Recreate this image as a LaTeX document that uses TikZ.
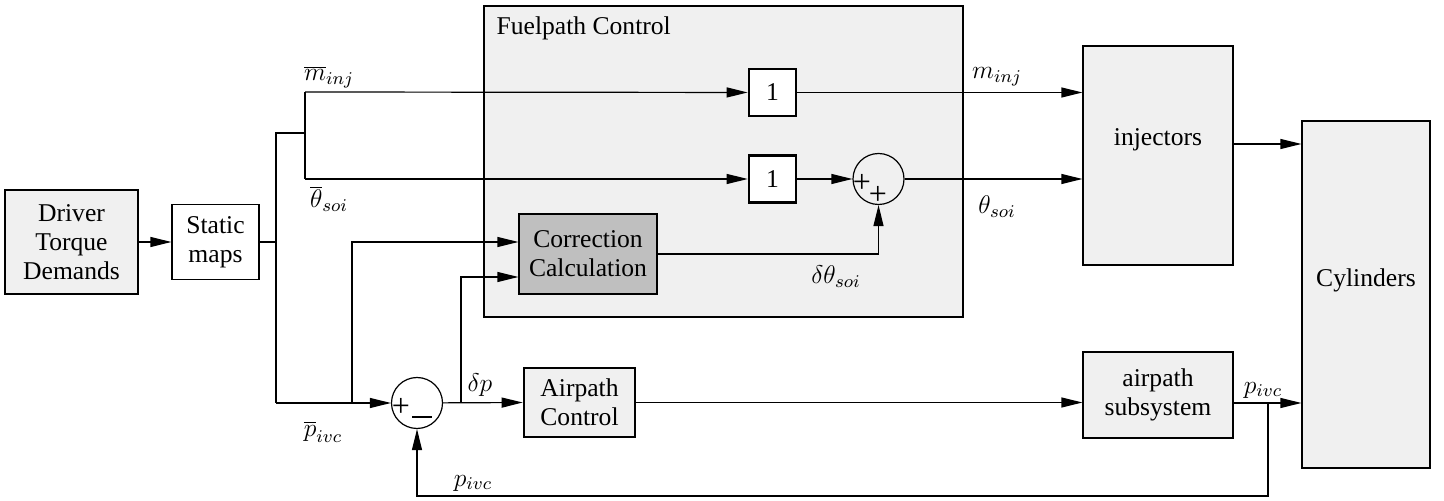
\documentclass[tikz,border=0pt]{standalone}
\usepackage{fix-cm}
\usepackage{fontspec}
\setmainfont{Liberation Serif}
\usetikzlibrary{arrows.meta}

\begin{document}
\begin{tikzpicture}[x=0.5pt,y=-0.5pt,line width=0.6pt,
  font=\fontsize{12.8}{14.5}\selectfont,
  >={Triangle[length=10.5pt,width=5pt]},
  blk/.style={draw,fill=black!6,align=center,inner sep=0pt},
  gain/.style={draw,fill=white,line width=1.3pt,minimum size=23.5pt,inner sep=0pt},
  sumj/.style={draw,circle,minimum size=25.5pt,inner sep=0pt},
  sgn/.style={inner sep=0pt,font=\fontsize{16}{16}\selectfont}]
\useasboundingbox (0,0) rectangle (1444,501);
% fuelpath frame goes first, the rest sits on top of it
\node[blk,line width=1.3pt,minimum width=239.5pt,minimum height=155.5pt] (fuel) at (723.5,161.5) {};
\node[anchor=base west,inner sep=0pt] (fueltitle) at (496,35) {Fuelpath Control};
%
\node[blk,minimum width=66.5pt,minimum height=52pt] (drv) at (71.5,242) {Driver\\Torque\\Demands};
\node[blk,fill=white,minimum width=43.5pt,minimum height=37.5pt] (smap) at (215.5,242) {Static\\maps};
\node[gain] (one1) at (772.5,92.5) {1};
\node[gain] (one2) at (772.5,179) {1};
\node[sumj] (add) at (878.5,179) {};
\node[blk,fill=black!25,minimum width=69pt,minimum height=40pt] (corr) at (588,254) {Correction\\Calculation};
\node[blk,minimum width=75pt,minimum height=109.5pt] (inj) at (1158,155.5) {};
\node (injtxt) at (1158,140) {injectors};
\node[blk,minimum width=64pt,minimum height=173.5pt] (cyl) at (1366,294.5) {};
\node (cyltxt) at (1366,280) {Cylinders};
\node[blk,minimum width=75pt,minimum height=43pt] (sub) at (1158,395) {airpath\\subsystem};
\node[blk,line width=1.3pt,minimum width=55.5pt,minimum height=34.5pt] (apc) at (579.5,402.5) {Airpath\\Control};
\node[sumj] (diff) at (417,403) {};
% signs in the junctions
\node[sgn] (addp1) at (862,183) {+};
\node[sgn] (addp2) at (878,195) {+};
\node[sgn] (diffp) at (401,407) {+};
\node[sgn] (diffm) at (422,417) {\rule{10pt}{1.2pt}};
%
\coordinate (ja) at (276,242);
\coordinate (jtop) at (276,133);
\coordinate (jbot) at (276,403);
\coordinate (jf) at (305,133);
\coordinate (jm) at (305,92);
\coordinate (jt) at (305,179);
\coordinate (jp) at (352,403);
\coordinate (jd) at (461,403);
\coordinate (jc) at (1268,403);
\coordinate (jfb) at (1268,496);
\coordinate (io) at ([yshift=5.75pt]inj.east);
%
\draw[->] (drv) -- (smap);
\draw (smap) -- (ja);
\draw (jf) -- (jtop) -- (jbot);
\draw (jm) -- (jt);
\draw[->] (jm) -- (one1);
\draw[->] (jt) -- (one2);
\draw[->] (jbot) -- (diff);
\draw[->] (jp) |- ([yshift=6pt]corr.west);
\draw[->] (jd) |- ([yshift=-11.5pt]corr.west);
\draw[->] (corr) -| (add);
\draw[->] (one2) -- (add);
\draw[->] (one1) -- (one1 -| inj.west);
\draw[->] (add) -- (add -| inj.west);
\draw[->] (io) -- (io -| cyl.west);
\draw[->] (diff) -- (apc.west);
\draw[->] (apc.east) -- (apc.east -| sub.west);
\draw[->] (sub.east |- jc) -- (jc -| cyl.west);
\draw[->] (jc) -- (jfb) -| (diff);
% signal names
\node (lmbar) at (329,77) {$\overline{m}_{inj}$};
\node (ltbar) at (329,199) {$\overline{\theta}_{soi}$};
\node (lm) at (997,77) {$m_{inj}$};
\node (lt) at (997,207) {$\theta_{soi}$};
\node (ldt) at (836,277) {$\delta\theta_{soi}$};
\node (lpbar) at (323,432) {$\overline{p}_{ivc}$};
\node (ldp) at (480,385) {$\delta p$};
\node (lp) at (1263,390) {$p_{ivc}$};
\node (lpfb) at (473,483) {$p_{ivc}$};
\end{tikzpicture}
\end{document}
